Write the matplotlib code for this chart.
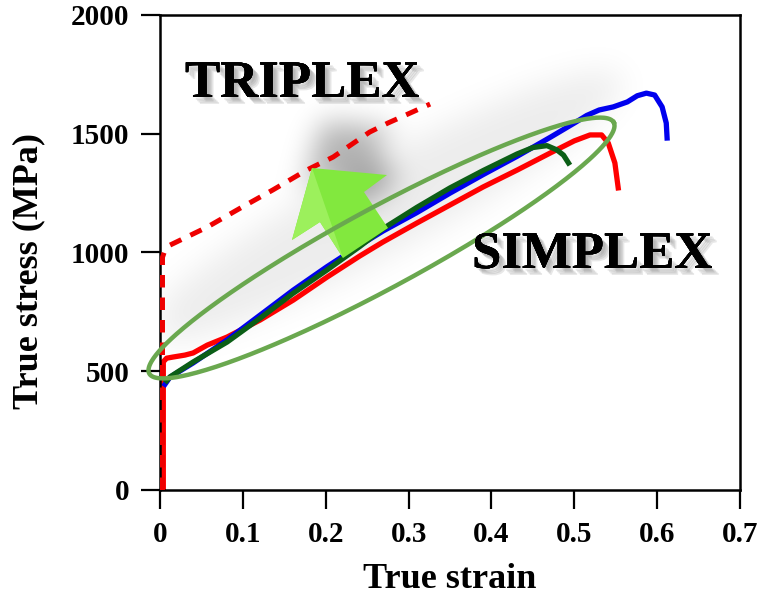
import numpy as np
import matplotlib
matplotlib.use('Agg')
import matplotlib.pyplot as plt
import matplotlib.patheffects as pe
from matplotlib.patches import Polygon
from matplotlib.path import Path

plt.rcParams['font.family'] = ['Liberation Serif', 'DejaVu Serif']
plt.rcParams['font.weight'] = 'bold'

"""data read off the picture"""
# TRIPLEX (red dashed)
tri_x = [0.003, 0.003, 0.006, 0.012, 0.057, 0.097, 0.136, 0.177, 0.209, 0.253, 0.275, 0.326]
tri_y = [0, 980, 1010, 1031, 1107, 1187, 1263, 1347, 1402, 1507, 1545, 1625]

# SIMPLEX curves
blue_x = [0.006, 0.012, 0.040, 0.081, 0.121, 0.161, 0.201, 0.241, 0.269, 0.310, 0.350, 0.390, 0.431,
          0.471, 0.500, 0.515, 0.530, 0.547, 0.564, 0.576, 0.587, 0.597, 0.606, 0.611, 0.612]
blue_y = [445, 475, 535, 632, 737, 842, 939, 1030, 1090, 1168, 1250, 1328, 1405,
          1485, 1545, 1577, 1600, 1613, 1634, 1660, 1671, 1663, 1613, 1545, 1482]

green_x = [0.008, 0.012, 0.040, 0.081, 0.121, 0.161, 0.201, 0.241, 0.269, 0.310, 0.350, 0.390,
           0.431, 0.450, 0.467, 0.479, 0.487, 0.493]
green_y = [460, 476, 539, 623, 724, 829, 925, 1025, 1100, 1190, 1272, 1345,
           1415, 1442, 1450, 1432, 1410, 1377]

red_x = [0.004, 0.004, 0.008, 0.016, 0.030, 0.040, 0.057, 0.081, 0.121, 0.161, 0.201, 0.241, 0.269,
         0.310, 0.350, 0.390, 0.431, 0.471, 0.500, 0.519, 0.533, 0.541, 0.549, 0.553]
red_y = [0, 540, 555, 560, 568, 577, 610, 644, 716, 800, 895, 985, 1044,
         1124, 1200, 1276, 1347, 1419, 1470, 1495, 1495, 1461, 1377, 1272]

xticks = [0, 0.1, 0.2, 0.3, 0.4, 0.5, 0.6, 0.7]
xticklabels = ['0', '0.1', '0.2', '0.3', '0.4', '0.5', '0.6', '0.7']
yticks = [0, 500, 1000, 1500, 2000]

"""layout (pixels of the 761x599 picture)"""
W_FIG, H_FIG = 761, 599
AX_L, AX_R, AX_T, AX_B = 160, 740, 15, 490

def px2data(xp, yp):
    xp = np.asarray(xp, float)
    yp = np.asarray(yp, float)
    return (xp - AX_L) / (AX_R - AX_L) * 0.7, (AX_B - yp) / (AX_B - AX_T) * 2000

def blur(img, sigma):
    k = np.arange(-int(3 * sigma), int(3 * sigma) + 1)
    g = np.exp(-k**2 / (2 * sigma**2))
    g /= g.sum()
    img = np.apply_along_axis(lambda r: np.convolve(r, g, mode='same'), 0, img)
    img = np.apply_along_axis(lambda r: np.convolve(r, g, mode='same'), 1, img)
    return img

# ellipse around SIMPLEX curves and the arrow, in pixel space
ell_c = (381.5, 248.0)
ell_a, ell_b = 264.0, 40.0
ell_ang = np.deg2rad(28.4)
arrow_px = np.array([[312, 168], [387, 175], [364, 192], [388, 228],
                     [343, 258], [320, 222], [292, 240]], float)

fig = plt.figure(figsize=(W_FIG / 100, H_FIG / 100), dpi=100)
ax = fig.add_axes([AX_L / W_FIG, (H_FIG - AX_B) / H_FIG,
                   (AX_R - AX_L) / W_FIG, (AX_B - AX_T) / H_FIG])

# soft grey shadow behind ellipse and arrow
yy, xx = np.mgrid[AX_T:AX_B, AX_L:AX_R] + 0.5
dx = xx - ell_c[0]
dy = yy - (ell_c[1] - 40)
u = dx * np.cos(ell_ang) - dy * np.sin(ell_ang)
v = dx * np.sin(ell_ang) + dy * np.cos(ell_ang)
ell_mask = ((u / (ell_a + 10))**2 + (v / (ell_b + 5))**2 <= 1).astype(float)
arr_path = Path(arrow_px + np.array([10, -46]))
arr_mask = arr_path.contains_points(np.c_[xx.ravel(), yy.ravel()]).reshape(xx.shape).astype(float)
alpha = 0.075 * blur(ell_mask, 16) + 0.30 * blur(arr_mask, 14)
shadow = np.zeros(xx.shape + (4,))
shadow[..., 3] = np.clip(alpha, 0, 1)
ax.imshow(shadow, extent=(0, 0.7, 0, 2000), aspect='auto', zorder=1, interpolation='bilinear')

ax.plot(red_x, red_y, color='#ff0000', lw=3.8, zorder=2)
ax.plot(blue_x, blue_y, color='#0000ee', lw=3.8, zorder=2.2)
ax.plot(green_x, green_y, color='#0b5e16', lw=3.8, zorder=2.4)
ax.plot(tri_x, tri_y, color='#ee0000', lw=3.6, ls=(0, (2.5, 2.0)), zorder=2.6)

# green arrow
ax_arr = np.array(px2data(arrow_px[:, 0], arrow_px[:, 1])).T
ax.add_patch(Polygon(ax_arr, closed=True, facecolor='#82e83e', edgecolor='none', zorder=3))
facet = arrow_px[[0, 4, 5, 6]]
ax.add_patch(Polygon(np.array(px2data(facet[:, 0], facet[:, 1])).T, closed=True,
                     facecolor='#9cf05c', edgecolor='none', zorder=3.1))

# ellipse outline
t = np.linspace(0, 2 * np.pi, 400)
ex = ell_c[0] + ell_a * np.cos(t) * np.cos(ell_ang) + ell_b * np.sin(t) * np.sin(ell_ang)
ey = ell_c[1] - ell_a * np.cos(t) * np.sin(ell_ang) + ell_b * np.sin(t) * np.cos(ell_ang)
exd, eyd = px2data(ex, ey)
ax.plot(exd, eyd, color='#6aa84f', lw=3.2, zorder=4, clip_on=False)

shadow_fx = [pe.withSimplePatchShadow(offset=(o, -o), shadow_rgbFace='0.5', alpha=0.18)
             for o in (2, 3, 4, 5)] + [pe.Normal()]
tx, ty = px2data(185, 97)
ax.text(tx, ty, 'TRIPLEX', fontsize=38, fontweight='bold', ha='left', va='baseline',
        zorder=5, path_effects=shadow_fx)
sx, sy = px2data(472, 268)
ax.text(sx, sy, 'SIMPLEX', fontsize=38, fontweight='bold', ha='left', va='baseline',
        zorder=5, path_effects=shadow_fx)

ax.set_xlim(0, 0.7)
ax.set_ylim(0, 2000)
ax.set_xticks(xticks)
ax.set_xticklabels(xticklabels)
ax.set_yticks(yticks)
ax.tick_params(direction='out', length=14, width=1.6, pad=8, labelsize=21,
               top=False, right=False)
for s in ax.spines.values():
    s.set_linewidth(1.8)

ax.set_xlabel('True strain', fontsize=26, fontweight='bold', labelpad=11)
ax.set_ylabel('True stress (MPa)', fontsize=26, fontweight='bold')
ax.yaxis.set_label_coords(-0.198, 0.46)

fig.savefig('out.png', dpi=100)
